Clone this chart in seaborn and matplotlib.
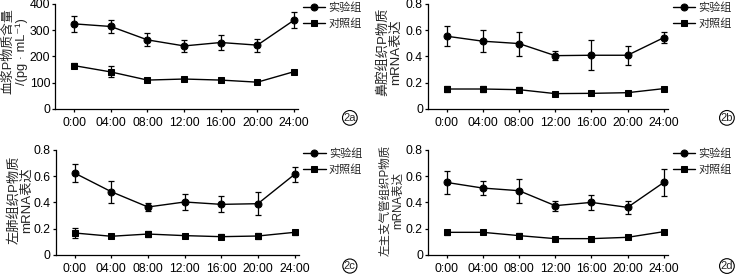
import numpy as np
import pandas as pd
import matplotlib
matplotlib.use("Agg")
import matplotlib.pyplot as plt
import seaborn as sns

times = ["0:00", "04:00", "08:00", "12:00", "16:00", "20:00", "24:00"]
groups = ["实验组", "对照组"]

# panel a: plasma substance P (pg/mL)
a_exp = [324, 314, 263, 240, 253, 243, 338]
a_exp_sd = [30, 24, 25, 23, 28, 25, 31]
a_ctl = [165, 141, 110, 114, 110, 102, 142]
a_ctl_sd = [10, 21, 6, 8, 8, 5, 7]

# panel b: nasal tissue mRNA
b_exp = [0.554, 0.516, 0.498, 0.406, 0.409, 0.409, 0.543]
b_exp_sd = [0.074, 0.084, 0.091, 0.032, 0.116, 0.072, 0.04]
b_ctl = [0.152, 0.152, 0.147, 0.117, 0.119, 0.124, 0.155]
b_ctl_sd = [0.02, 0.02, 0.02, 0.008, 0.015, 0.015, 0.01]

# panel c: left lung mRNA
c_exp = [0.623, 0.481, 0.365, 0.403, 0.385, 0.39, 0.613]
c_exp_sd = [0.071, 0.085, 0.033, 0.063, 0.062, 0.089, 0.058]
c_ctl = [0.167, 0.142, 0.159, 0.147, 0.139, 0.144, 0.172]
c_ctl_sd = [0.04, 0.01, 0.025, 0.01, 0.02, 0.02, 0.02]

# panel d: left main bronchus mRNA
d_exp = [0.552, 0.509, 0.489, 0.375, 0.4, 0.362, 0.552]
d_exp_sd = [0.09, 0.053, 0.092, 0.037, 0.06, 0.05, 0.104]
d_ctl = [0.172, 0.172, 0.147, 0.124, 0.124, 0.134, 0.177]
d_ctl_sd = [0.02, 0.01, 0.02, 0.01, 0.015, 0.01, 0.01]

mrna_ticks = [0, 0.2, 0.4, 0.6, 0.8]
mrna_labels = ["0", "0.2", "0.4", "0.6", "0.8"]

sns.set_theme(style="ticks")
plt.rcParams["font.family"] = ["Liberation Sans", "Noto Sans CJK SC", "DejaVu Sans"]
plt.rcParams["font.size"] = 9

fig = plt.figure(figsize=(7.35, 2.78), dpi=100)

panels = [
    ("2a", [0.075, 0.608, 0.331, 0.378], a_exp, a_exp_sd, a_ctl, a_ctl_sd,
     "血浆P物质含量\n/(pg · mL⁻¹)", [0, 100, 200, 300, 400], ["0", "100", "200", "300", "400"],
     (0.476, 0.576), (-0.112, 0.55), 9.3),
    ("2b", [0.582, 0.608, 0.327, 0.378], b_exp, b_exp_sd, b_ctl, b_ctl_sd,
     "鼻腔组织P物质\nmRNA表达", mrna_ticks, mrna_labels,
     (0.989, 0.576), (-0.108, 0.54), 9.5),
    ("2c", [0.0757, 0.083, 0.331, 0.378], c_exp, c_exp_sd, c_ctl, c_ctl_sd,
     "左肺组织P物质\nmRNA表达", mrna_ticks, mrna_labels,
     (0.476, 0.043), (-0.095, 0.52), 9.5),
    ("2d", [0.582, 0.083, 0.327, 0.378], d_exp, d_exp_sd, d_ctl, d_ctl_sd,
     "左主支气管组织P物质\nmRNA表达", mrna_ticks, mrna_labels,
     (0.989, 0.043), (-0.1, 0.52), 8.3),
]

for tag, rect, exp, exp_sd, ctl, ctl_sd, ylab, yt, ytl, tagpos, labpos, labsize in panels:
    ax = fig.add_axes(rect)
    df = pd.DataFrame({
        "time": list(range(len(times))) * 2,
        "value": exp + ctl,
        "group": [groups[0]] * len(times) + [groups[1]] * len(times),
    })
    sds = {groups[0]: exp_sd, groups[1]: ctl_sd}
    for g in groups:
        sub = df[df["group"] == g]
        ax.errorbar(sub["time"], sub["value"], yerr=sds[g], fmt="none",
                    ecolor="black", elinewidth=0.9, capsize=2.5, capthick=0.9, zorder=2)
    sns.lineplot(data=df, x="time", y="value", hue="group", style="group",
                 markers={groups[0]: "o", groups[1]: "s"}, dashes=False,
                 palette={groups[0]: "black", groups[1]: "black"},
                 markersize=5, markeredgecolor="black", linewidth=1.0, ax=ax, zorder=3)
    ax.set_xlim(-0.52, 6.12)
    ax.set_ylim(yt[0], yt[-1])
    ax.set_xticks(range(len(times)))
    ax.set_xticklabels(times)
    ax.set_yticks(yt)
    ax.set_yticklabels(ytl)
    ax.set_xlabel("")
    ax.set_ylabel(ylab, fontsize=labsize, linespacing=1.05)
    ax.yaxis.set_label_coords(labpos[0], labpos[1])
    sns.despine(ax=ax)
    for s in ["left", "bottom"]:
        ax.spines[s].set_linewidth(0.9)
        ax.spines[s].set_color("black")
    ax.tick_params(axis="both", length=2.5, width=0.9, colors="black", labelsize=8.8)
    ax.tick_params(axis="y", pad=1.0)
    ax.tick_params(axis="x", pad=3.5)
    ax.legend(loc="upper left", bbox_to_anchor=(1.0, 1.06), frameon=False,
              fontsize=8, handlelength=2.0, handletextpad=0.3,
              labelspacing=0.5, borderaxespad=0.0)
    fig.text(tagpos[0], tagpos[1], tag, ha="center", va="center", fontsize=8,
             bbox=dict(boxstyle="circle,pad=0.1", fc="white", ec="black", lw=0.8))

fig.savefig("out.png", dpi=100)
